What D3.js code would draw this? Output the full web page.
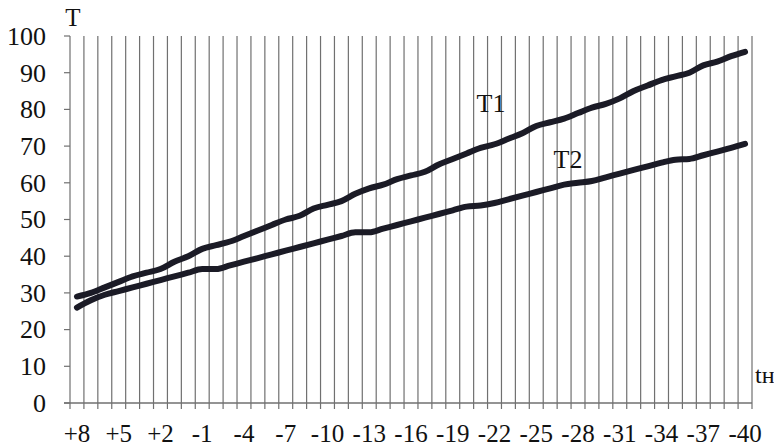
<!DOCTYPE html>
<html>
<head>
<meta charset="utf-8">
<script src="https://cdn.jsdelivr.net/npm/d3@7/dist/d3.min.js"></script>
<style>
  html, body { margin: 0; padding: 0; background: #fff; }
  text { font-family: "Liberation Serif", "DejaVu Serif", serif; fill: #111; }
</style>
</head>
<body>
<div id="chart"></div>
<script>
// outdoor temperature, tн
const categories = ['+8', '+7', '+6', '+5', '+4', '+3', '+2', '+1', '0', '-1',
  '-2', '-3', '-4', '-5', '-6', '-7', '-8', '-9', '-10', '-11',
  '-12', '-13', '-14', '-15', '-16', '-17', '-18', '-19', '-20', '-21',
  '-22', '-23', '-24', '-25', '-26', '-27', '-28', '-29', '-30', '-31',
  '-32', '-33', '-34', '-35', '-36', '-37', '-38', '-39', '-40'];

const xTickLabels = ['+8', '+5', '+2', '-1', '-4', '-7', '-10', '-13', '-16',
  '-19', '-22', '-25', '-28', '-31', '-34', '-37', '-40'];

const yTicks = [0, 10, 20, 30, 40, 50, 60, 70, 80, 90, 100];

const t1 = [29.0, 30.0, 31.5, 33.0, 34.5, 35.5, 36.5, 38.5, 40.0, 42.0,
  43.0, 44.0, 45.5, 47.0, 48.5, 50.0, 51.0, 53.0, 54.0, 55.0,
  57.0, 58.5, 59.5, 61.0, 62.0, 63.0, 65.0, 66.5, 68.0, 69.5,
  70.5, 72.0, 73.5, 75.5, 76.5, 77.5, 79.0, 80.5, 81.5, 83.0,
  85.0, 86.5, 88.0, 89.0, 90.0, 92.0, 93.0, 94.5, 95.7];

const t2 = [26.0, 28.0, 29.5, 30.5, 31.5, 32.5, 33.5, 34.5, 35.5, 36.5,
  36.5, 37.5, 38.5, 39.5, 40.5, 41.5, 42.5, 43.5, 44.5, 45.5,
  46.5, 46.5, 47.5, 48.5, 49.5, 50.5, 51.5, 52.5, 53.5, 53.8,
  54.5, 55.5, 56.5, 57.5, 58.5, 59.5, 60.0, 60.5, 61.5, 62.5,
  63.5, 64.5, 65.5, 66.3, 66.5, 67.5, 68.5, 69.5, 70.6];

const width = 774, height = 448;
const plotLeft = 70, plotRight = 752, plotTop = 36, plotBottom = 403;

const svg = d3.select('#chart')
  .append('svg')
    .attr('width', width)
    .attr('height', height);

const x = d3.scaleBand()
  .domain(categories)
  .range([plotLeft, plotRight])
  .padding(0);

const y = d3.scaleLinear()
  .domain([0, 100])
  .range([plotBottom, plotTop]);

const bw = x.bandwidth();
const cx = (c) => x(c) + bw / 2;

// vertical grid lines on category edges
const edges = categories.map((c) => x(c)).concat([plotRight]);

svg.append('g')
  .selectAll('line')
  .data(edges).enter().append('line')
  .attr('x1', (d) => d).attr('x2', (d) => d)
  .attr('y1', plotTop).attr('y2', plotBottom)
  .style('stroke', '#707070')
  .style('stroke-width', 1.2);

// x axis line + tick marks below
svg.append('line')
  .attr('x1', plotLeft - 6).attr('x2', plotRight)
  .attr('y1', plotBottom).attr('y2', plotBottom)
  .style('stroke', '#707070')
  .style('stroke-width', 1.4);

svg.append('g')
  .selectAll('line')
  .data(edges).enter().append('line')
  .attr('x1', (d) => d).attr('x2', (d) => d)
  .attr('y1', plotBottom).attr('y2', plotBottom + 6)
  .style('stroke', '#707070')
  .style('stroke-width', 1.2);

// y ticks
svg.append('g')
  .selectAll('line')
  .data(yTicks).enter().append('line')
  .attr('x1', plotLeft - 6).attr('x2', plotLeft)
  .attr('y1', (d) => y(d)).attr('y2', (d) => y(d))
  .style('stroke', '#707070')
  .style('stroke-width', 1.2);

svg.append('g')
  .selectAll('text')
  .data(yTicks).enter().append('text')
  .attr('x', 46)
  .attr('y', (d) => y(d))
  .attr('dy', '0.34em')
  .style('text-anchor', 'end')
  .style('font-size', '26px')
  .text((d) => d);

svg.append('g')
  .selectAll('text')
  .data(xTickLabels).enter().append('text')
  .attr('x', (d) => cx(d))
  .attr('y', 442)
  .style('text-anchor', 'middle')
  .style('font-size', '25px')
  .text((d) => d);

// curves
const line = d3.line()
  .x((d, i) => cx(categories[i]))
  .y((d) => y(d))
  .curve(d3.curveMonotoneX);

[t1, t2].forEach((s) => {
  svg.append('path')
    .datum(s)
    .attr('d', line)
    .style('fill', 'none')
    .style('stroke', '#1b1b26')
    .style('stroke-width', 6)
    .style('stroke-linecap', 'round')
    .style('stroke-linejoin', 'round');
});

// labels
svg.append('text').attr('x', 73).attr('y', 26)
  .style('text-anchor', 'middle').style('font-size', '25px').text('T');
svg.append('text').attr('x', 491).attr('y', 112)
  .style('text-anchor', 'middle').style('font-size', '26px').text('T1');
svg.append('text').attr('x', 568).attr('y', 168)
  .style('text-anchor', 'middle').style('font-size', '26px').text('T2');
svg.append('text').attr('x', 755).attr('y', 383)
  .style('font-size', '24px').text('tн');
</script>
</body>
</html>
